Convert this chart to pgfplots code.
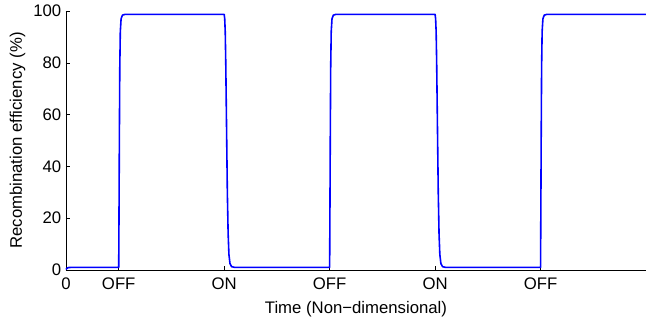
\documentclass[border=0pt]{standalone}
\usepackage{fontspec}
\setmainfont{Liberation Sans}
\usepackage{pgfplots}
\pgfplotsset{compat=1.18}
\begin{document}
\fontsize{16.8}{19}\selectfont
\begin{tikzpicture}
\begin{axis}[
  name=main,
  scale only axis,
  width=580bp, height=259bp,
  xmin=0, xmax=11, ymin=0, ymax=100,
  axis x line*=bottom, axis y line*=left,
  axis line style={black, line width=0.6pt},
  xtick={0,1,3,5,7,9},
  xticklabels={0,OFF,ON,OFF,ON,OFF},
  ytick={0,20,40,60,80,100},
  tick align=inside,
  major tick length=4.5bp,
  tick style={black, line width=0.5pt},
  /pgf/number format/assume math mode=true,
  tick label style={font=\fontsize{16.8}{19}\selectfont},
  label style={font=\fontsize{16.8}{19}\selectfont},
  xticklabel style={anchor=base, inner sep=0pt, yshift=-19.5bp},
  yticklabel style={anchor=east, inner sep=0pt, xshift=-4.5bp},
  xlabel={Time (Non−dimensional)},
  ylabel={Recombination efficiency (\%)},
  xlabel style={at={(axis description cs:0.5,0)}, anchor=base, inner sep=0pt, yshift=-43bp},
  ylabel style={at={([xshift=-44bp]axis description cs:0,0.5)}, anchor=base, inner sep=0pt},
  clip=false,
]
\addplot[blue, line width=1.6pt, line join=round] coordinates {
(0,0.2) (0.02,0.7) (0.05,0.95) (0.1,1) (1,1)
(1.005,20) (1.012,50) (1.02,78) (1.03,92) (1.045,97) (1.07,98.4) (1.12,98.7)
(3,98.7) (3.01,97) (3.02,92) (3.03,80) (3.045,55) (3.06,30) (3.075,14) (3.09,6) (3.11,2.5) (3.14,1.3) (3.2,1)
(5,1)
(5.005,20) (5.012,50) (5.02,78) (5.03,92) (5.045,97) (5.07,98.4) (5.12,98.7)
(7,98.7) (7.01,97) (7.02,92) (7.03,80) (7.045,55) (7.06,30) (7.075,14) (7.09,6) (7.11,2.5) (7.14,1.3) (7.2,1)
(9,1)
(9.005,20) (9.012,50) (9.02,78) (9.03,92) (9.045,97) (9.07,98.4) (9.12,98.7)
(11,98.7)
};
\end{axis}
\pgfresetboundingbox
\path ([xshift=-66bp,yshift=-51bp]main.south west) rectangle ([yshift=11bp]main.north east);
\end{tikzpicture}
\end{document}
